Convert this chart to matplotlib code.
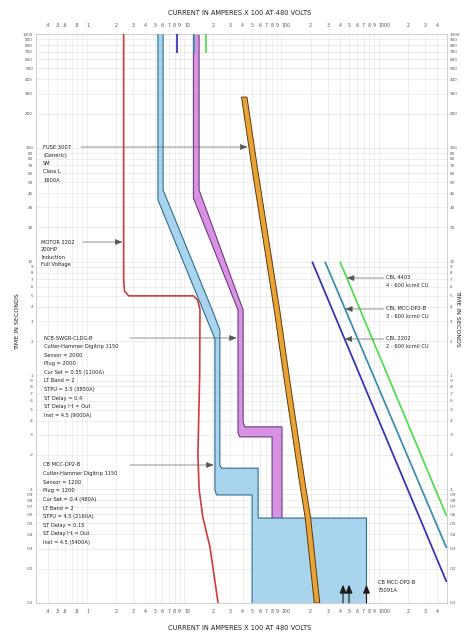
import numpy as np
import matplotlib
matplotlib.use("Agg")
import matplotlib.pyplot as plt
from matplotlib.ticker import FixedLocator, FixedFormatter, NullFormatter

W, H, DPI = 468, 633, 100

# ---- curve data: current in amperes x 100, time in seconds ----
motor_i = [2.4, 2.4, 2.45, 2.7, 12.5, 13.8, 14.6, 14.5, 13.9, 14.3, 15.6, 18.5, 22.4]
motor_t = [1000, 6.8, 5.5, 5.0, 5.0, 4.6, 3.8, 1.0, 0.2, 0.1, 0.057, 0.031, 0.01]

mcc_min_i = [5.4, 5.4, 15.7, 20.8, 20.8, 21.6, 50.1, 50.1]
mcc_min_t = [1000, 34.8, 3.76, 2.09, 0.098, 0.089, 0.089, 0.01]
mcc_max_i = [6.1, 6.1, 19.5, 23.4, 23.4, 24.3, 57.8, 57.8, 750.91, 750.91]
mcc_max_t = [1000, 42.6, 3.76, 2.51, 0.163, 0.153, 0.153, 0.0558, 0.0558, 0.01]

ncb_min_i = [12.5, 12.5, 35.9, 35.9, 37.4, 80.4, 80.4]
ncb_min_t = [1000, 36.2, 3.76, 0.314, 0.288, 0.288, 0.01]
ncb_max_i = [14.3, 14.3, 40.5, 40.5, 42.2, 101.7, 101.7]
ncb_max_t = [1000, 42.6, 3.76, 0.389, 0.353, 0.353, 0.01]

fuse_t = [279, 63.8, 3.76, 0.911, 0.12, 0.0558, 0.01]
fuse_melt_i = [39.0, 50.3, 84.6, 107.3, 152.8, 176.2, 218.4]
fuse_clear_i = [44.4, 57.3, 96.3, 122.1, 173.9, 200.5, 248.5]

cbl_2202_i, cbl_2202_t = [207.5, 5000], [10, 0.0153]
cbl_mcc_i, cbl_mcc_t = [281, 5000], [10, 0.0304]
cbl_4403_i, cbl_4403_t = [401, 5000], [10, 0.058]

ampacity_i = [8.47, 12.6, 16.8]
ampacity_t = [1000, 680]

fault_i = [431, 497, 750.91]

x_ticks = [0.3, 0.4, 0.5, 0.6, 0.7, 0.8, 0.9,
           1, 2, 3, 4, 5, 6, 7, 8, 9,
           10, 20, 30, 40, 50, 60, 70, 80, 90,
           100, 200, 300, 400, 500, 600, 700, 800, 900,
           1000, 2000, 3000, 4000, 5000]
x_labels = ["", ".4", ".5", ".6", "", ".8", "",
            "1", "2", "3", "4", "5", "6", "7", "8", "9",
            "10", "2", "3", "4", "5", "6", "7", "8", "9",
            "100", "2", "3", "4", "5", "6", "7", "8", "9",
            "1000", "2", "3", "4", ""]

y_ticks = [0.01, 0.02, 0.03, 0.04, 0.05, 0.06, 0.07, 0.08, 0.09,
           0.1, 0.2, 0.3, 0.4, 0.5, 0.6, 0.7, 0.8, 0.9,
           1, 2, 3, 4, 5, 6, 7, 8, 9,
           10, 20, 30, 40, 50, 60, 70, 80, 90,
           100, 200, 300, 400, 500, 600, 700, 800, 900, 1000]
y_labels = [".01", ".02", ".03", ".04", ".05", ".06", ".07", ".08", ".09",
            ".1", ".2", ".3", ".4", ".5", ".6", ".7", ".8", ".9",
            "1", "2", "3", "4", "5", "6", "7", "8", "9",
            "10", "20", "30", "40", "50", "60", "70", "80", "90",
            "100", "200", "300", "400", "500", "600", "700", "800", "900", "1000"]

fuse_text = ["FUSE 3007", "(Generic)", "SM", "Class L", "1600A"]
motor_text = ["MOTOR 2202", "200HP", "Induction", "Full Voltage"]
ncb_text = ["NCB-SWGR-CLDG-B", "Cutler-Hammer Digitrip 1150", "Sensor = 2000",
            "Plug = 2000", "Cur Set = 0.55 (1100A)", "LT Band = 2",
            "STPU = 3.5 (3850A)", "ST Delay = 0.4", "ST Delay I\u00b2t = Out",
            "Inst = 4.5 (9000A)"]
mcc_text = ["CB MCC-DP2-B", "Cutler-Hammer Digitrip 1150", "Sensor = 1200",
            "Plug = 1200", "Cur Set = 0.4 (480A)", "LT Band = 2",
            "STPU = 4.5 (2160A)", "ST Delay = 0.15", "ST Delay I\u00b2t = Out",
            "Inst = 4.5 (5400A)"]
cbl_texts = [["CBL 4403", "4 - 600 kcmil CU"],
             ["CBL MCC-DP2-B", "3 - 600 kcmil CU"],
             ["CBL 2202", "2 - 600 kcmil CU"]]
fault_text = ["CB MCC-DP2-B", "75091A"]

AXIS_TITLE = "CURRENT IN AMPERES X 100 AT 480 VOLTS"
TIME_TITLE = "TIME IN SECONDS"

# ---- colours ----
C_MOTOR = "#d23a3a"
C_MCC_FILL, C_MCC_EDGE = "#a8d4ee", "#2e6e8e"
C_NCB_FILL, C_NCB_EDGE = "#d992e3", "#6b3d7d"
C_FUSE_FILL, C_FUSE_EDGE = "#e9a334", "#5b3b12"
C_NAVY, C_TEAL, C_GREEN = "#3b35b5", "#3f8db0", "#52de52"
TXT = "#222222"
TICK_TXT = "#555555"

fig = plt.figure(figsize=(W / DPI, H / DPI), dpi=DPI)
ax = fig.add_axes([35.8 / W, 1 - 603 / H, (446.6 - 35.8) / W, (603 - 34) / H])
ax.set_xscale("log")
ax.set_yscale("log")
ax.set_xlim(0.3, 5000)
ax.set_ylim(0.01, 1000)

ax.xaxis.set_major_locator(FixedLocator(x_ticks))
ax.xaxis.set_major_formatter(NullFormatter())
ax.xaxis.set_minor_locator(FixedLocator([]))
ax.yaxis.set_major_locator(FixedLocator(y_ticks))
ax.yaxis.set_major_formatter(FixedFormatter(y_labels))
ax.yaxis.set_minor_locator(FixedLocator([]))
ax.tick_params(axis="x", which="both", length=0)
ax.tick_params(axis="y", which="both", length=0, labelsize=3.0, colors=TICK_TXT,
               left=True, labelleft=True, right=True, labelright=True, pad=2)
ax.grid(True, which="major", color="#e4e4e4", lw=0.45, zorder=0)
ax.set_axisbelow(True)
for sp in ax.spines.values():
    sp.set_color("#c8c8c8")
    sp.set_linewidth(0.6)

# current scale labels, top and bottom; decade labels start at their grid line
xtrans = ax.get_xaxis_transform()
for xv, lab in zip(x_ticks, x_labels):
    if not lab:
        continue
    decade = lab in ("1", "10", "100", "1000")
    for yfrac in (-0.0158, 1.0158):
        ax.text(xv, yfrac, lab, transform=xtrans, fontsize=3.4, color=TICK_TXT,
                ha="left" if decade else "center", va="center", clip_on=False)

# ---- breaker bands ----
ax.fill(np.r_[ncb_min_i, ncb_max_i[::-1]], np.r_[ncb_min_t, ncb_max_t[::-1]],
        facecolor=C_NCB_FILL, edgecolor="none", zorder=2)
ax.plot(ncb_min_i, ncb_min_t, color=C_NCB_EDGE, lw=0.8, zorder=2.1)
ax.plot(ncb_max_i, ncb_max_t, color=C_NCB_EDGE, lw=0.8, zorder=2.1)

ax.fill(np.r_[mcc_min_i, mcc_max_i[::-1]], np.r_[mcc_min_t, mcc_max_t[::-1]],
        facecolor=C_MCC_FILL, edgecolor="none", zorder=3)
ax.plot(mcc_min_i, mcc_min_t, color=C_MCC_EDGE, lw=0.8, zorder=3.1)
ax.plot(mcc_max_i, mcc_max_t, color=C_MCC_EDGE, lw=0.8, zorder=3.1)

# ---- motor starting curve ----
ax.plot(motor_i, motor_t, color=C_MOTOR, lw=1.2, zorder=4, solid_joinstyle="round")

# ---- fuse band ----
ax.fill(np.r_[fuse_melt_i, fuse_clear_i[::-1]], np.r_[fuse_t, fuse_t[::-1]],
        facecolor=C_FUSE_FILL, edgecolor=C_FUSE_EDGE, lw=0.7, zorder=5)

# ---- cable damage curves ----
for ci, ct, col in [(cbl_2202_i, cbl_2202_t, C_NAVY),
                    (cbl_mcc_i, cbl_mcc_t, C_TEAL),
                    (cbl_4403_i, cbl_4403_t, C_GREEN)]:
    ax.plot(ci, ct, color=col, lw=1.3, zorder=6, solid_capstyle="butt")

# ---- cable ampacity markers ----
for ai, col in zip(ampacity_i, [C_NAVY, C_TEAL, C_GREEN]):
    ax.plot([ai, ai], ampacity_t, color=col, lw=1.3, zorder=6, solid_capstyle="butt")

# ---- fault current arrows ----
for fi in fault_i:
    ax.annotate("", xy=(fi, 0.0145), xytext=(fi, 0.01),
                arrowprops=dict(arrowstyle="-|>,head_length=0.5,head_width=0.2",
                                color="#1a1a1a", lw=0.8, shrinkA=0, shrinkB=0),
                zorder=7)


def current_at(i_arr, t_arr, t):
    """Current of a curve at time t, interpolated in log-log space."""
    lt = np.log10(np.asarray(t_arr, float))[::-1]
    li = np.log10(np.asarray(i_arr, float))[::-1]
    return 10 ** np.interp(np.log10(t), lt, li)


def time_at_py(py):
    frac = (603 - py) / (603 - 34)
    return 10 ** (-2 + 5 * frac)


def pointer(tail_px, py, curve_i, curve_t, tip_shift=0.97):
    t = time_at_py(py)
    tip = current_at(curve_i, curve_t, t) * tip_shift
    ax.annotate("", xy=(tip, t), xytext=(tail_px, H - py), textcoords="figure pixels",
                arrowprops=dict(arrowstyle="-|>,head_length=0.45,head_width=0.18",
                                color="#555555", lw=0.45, shrinkA=0, shrinkB=0),
                zorder=8)


def text_block(lines, px, py, step, size=3.7):
    for k, s in enumerate(lines):
        fig.text(px / W, 1 - (py + k * step) / H, s, fontsize=size,
                 ha="left", va="center", color=TXT)


# ---- device labels ----
text_block(fuse_text, 43, 147, 8.3)
pointer(81, 147, fuse_melt_i, fuse_t)
text_block(motor_text, 41, 242, 7.6)
pointer(83, 242, motor_i[:3], motor_t[:3])
text_block(ncb_text, 44, 338, 8.6)
pointer(130, 338, ncb_min_i, ncb_min_t)
text_block(mcc_text, 43, 465, 8.6)
pointer(130, 465, mcc_min_i, mcc_min_t)

for lines, py, (ci, ct) in zip(cbl_texts, [278, 309, 339],
                               [(cbl_4403_i, cbl_4403_t), (cbl_mcc_i, cbl_mcc_t),
                                (cbl_2202_i, cbl_2202_t)]):
    text_block(lines, 386, py, 7.6)
    pointer(384, py, ci, ct, tip_shift=1.0)

text_block(fault_text, 378, 583, 8.0)

# ---- axis titles ----
fig.text(240 / W, 1 - 13 / H, AXIS_TITLE, fontsize=4.8, ha="center", va="center", color=TXT)
fig.text(240 / W, 1 - 628 / H, AXIS_TITLE, fontsize=4.8, ha="center", va="center", color=TXT)
fig.text(18 / W, 1 - 322 / H, TIME_TITLE, fontsize=4.6, rotation=90, ha="center", va="center", color=TXT)
fig.text(458 / W, 1 - 318 / H, TIME_TITLE, fontsize=4.6, rotation=270, ha="center", va="center", color=TXT)

fig.savefig("out.png", dpi=DPI)
